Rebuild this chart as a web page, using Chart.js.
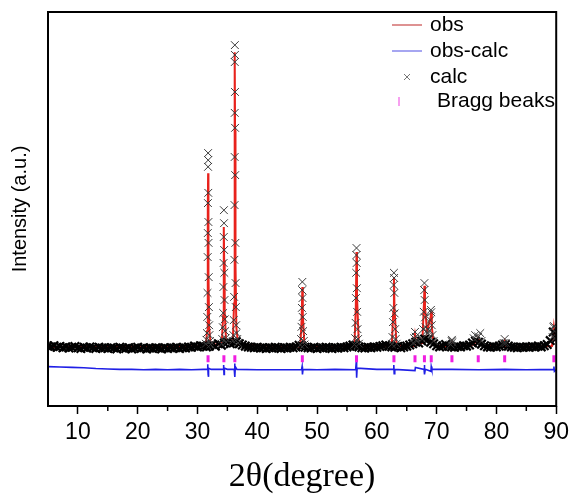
<!DOCTYPE html>
<html>
<head>
<meta charset="utf-8">
<script src="https://cdn.jsdelivr.net/npm/chart.js@4.4.1/dist/chart.umd.min.js"></script>
<style>
  html, body { margin: 0; padding: 0; background: #fff; }
  canvas { display: block; }
</style>
</head>
<body>
<canvas id="xrdChart" width="574" height="494"></canvas>
<script>
// x axis ticks (2theta, degree)
const majorTicks = [10, 20, 30, 40, 50, 60, 70, 80, 90];
const minorTicks = [15, 25, 35, 45, 55, 65, 75, 85];

// Bragg reflection positions
const braggPeaks = [31.77, 34.42, 36.25, 47.54, 56.60, 62.86, 66.38, 67.96, 69.10, 72.56, 76.96, 81.38, 89.61];
const braggLevel = 120;

// calc: background points on a 0.5 degree scan from 5 to 90
const scanStart = 5;
const scanStep = 0.5;
const calcBackground = [
    152, 150, 153, 149, 151, 148, 150, 147, 149, 151, 148, 146, 149, 147, 150, 148, 146, 149, 147, 148,
    146, 148, 147, 145, 149, 147, 146, 148, 145, 147, 149, 146, 148, 145, 147, 146, 148, 147, 145, 148,
    146, 148, 147, 149, 146, 148, 147, 150, 149, 152, 150, 153, 152, 150, 152, 156, 152, 158, 154, 160,
    162, 158, 160, 163, 158, 155, 152, 150, 149, 148, 149, 147, 148, 146, 148, 147, 149, 148, 146, 148,
    147, 149, 148, 150, 154, 152, 149, 148, 147, 149, 146, 148, 147, 149, 148, 146, 148, 147, 149, 148,
    150, 152, 155, 153, 150, 148, 147, 149, 148, 150, 149, 151, 153, 155, 152, 150, 149, 151, 148, 150,
    152, 155, 158, 162, 160, 165, 170, 168, 162, 158, 153, 150, 152, 156, 152, 150, 149, 151, 150, 153,
    152, 155, 160, 165, 162, 157, 153, 150, 149, 151, 150, 152, 155, 156, 152, 150, 149, 148, 150, 149,
    150, 149, 151, 150, 152, 150, 153, 156, 166, 188, 172
];

// calc: points across the reflections [2theta, intensity]
const calcPeaks = [
    [31.40, 158], [31.50, 168], [31.58, 185], [31.64, 226], [31.68, 287], [31.71, 378], [31.73, 439],
    [31.75, 515], [31.77, 607], [31.78, 642], [31.79, 624], [31.81, 541], [31.83, 467], [31.85, 414],
    [31.88, 327], [31.91, 251], [31.95, 205], [32.00, 180], [32.08, 165], [32.20, 156],
    [34.05, 158], [34.15, 170], [34.24, 200], [34.30, 236], [34.34, 302], [34.37, 363], [34.40, 429],
    [34.42, 497], [34.44, 464], [34.46, 396], [34.49, 338], [34.52, 269], [34.56, 220], [34.62, 190],
    [34.70, 172], [34.80, 162],
    [35.90, 165], [36.00, 180], [36.08, 218], [36.13, 277], [36.17, 371], [36.20, 510], [36.22, 632],
    [36.23, 744], [36.24, 873], [36.25, 916], [36.26, 891], [36.27, 797], [36.29, 706], [36.31, 586],
    [36.34, 414], [36.37, 312], [36.41, 251], [36.46, 205], [36.54, 185], [36.65, 170], [36.80, 160],
    [47.20, 155], [47.32, 170], [47.40, 201], [47.46, 249], [47.51, 294], [47.54, 315], [47.57, 274],
    [47.61, 226], [47.67, 190], [47.78, 165], [47.90, 156],
    [56.25, 156], [56.38, 172], [56.45, 211], [56.50, 274], [56.54, 338], [56.58, 383], [56.60, 401],
    [56.63, 363], [56.66, 299], [56.70, 239], [56.76, 195], [56.86, 170], [57.00, 158],
    [62.50, 157], [62.62, 175], [62.70, 213], [62.76, 249], [62.81, 307], [62.86, 338], [62.89, 325],
    [62.93, 287], [62.98, 235], [63.05, 195], [63.15, 170], [63.30, 158],
    [66.10, 160], [66.25, 172], [66.38, 188], [66.50, 176], [66.65, 165],
    [67.60, 170], [67.75, 195], [67.85, 239], [67.92, 294], [67.96, 312], [68.00, 269], [68.06, 225],
    [68.15, 200], [68.30, 190],
    [68.50, 185], [68.80, 192], [68.95, 218], [69.05, 244], [69.10, 238], [69.18, 205], [69.30, 180],
    [69.50, 165],
    [72.35, 156], [72.50, 165], [72.56, 168], [72.65, 162],
    [76.20, 172], [76.45, 180], [76.96, 176], [77.30, 185], [77.50, 165],
    [81.20, 160], [81.38, 170], [81.55, 160],
    [89.40, 175], [89.55, 200], [89.61, 203], [89.70, 190], [89.85, 172]
];

// obs: measured profile [2theta, intensity]
const obsProfile = [
    [5, 150], [31.40, 152], [31.60, 190], [31.70, 330], [31.75, 500], [31.78, 591], [31.81, 520],
    [31.86, 340], [31.95, 200], [32.20, 156], [34.05, 156], [34.30, 230], [34.38, 360], [34.42, 454],
    [34.47, 370], [34.55, 240], [34.80, 160], [35.90, 160], [36.12, 260], [36.20, 520], [36.25, 898],
    [36.29, 700], [36.36, 360], [36.50, 200], [36.80, 156], [47.20, 150], [47.42, 220], [47.54, 302],
    [47.62, 230], [47.90, 152], [56.25, 152], [56.48, 250], [56.60, 391], [56.68, 280], [57.00, 152],
    [62.50, 152], [62.75, 240], [62.86, 327], [62.95, 250], [63.30, 152], [66.10, 152], [66.38, 182],
    [66.65, 155], [67.60, 160], [67.88, 260], [67.96, 305], [68.05, 250], [68.40, 190], [69.00, 225],
    [69.10, 240], [69.20, 200], [69.50, 158], [70.50, 152], [72.30, 150], [72.56, 162], [72.80, 150],
    [76.20, 156], [76.96, 174], [77.60, 154], [81.10, 150], [81.38, 164], [81.60, 150], [89.30, 152],
    [89.61, 200], [89.85, 168], [90, 165]
];

// obs-calc: difference curve [2theta, intensity]
const diffProfile = [
    [5, 100], [7, 99], [9, 98], [11, 97], [13, 95], [15, 94], [17, 93], [19, 93], [21, 92], [23, 93],
    [25, 92], [27, 93], [29, 92], [31, 93], [31.60, 93], [31.72, 106], [31.78, 80], [31.82, 74],
    [31.88, 96], [32.3, 93], [34.30, 93], [34.38, 104], [34.44, 80], [34.50, 96], [35, 93],
    [36.15, 93], [36.22, 108], [36.27, 74], [36.33, 100], [36.6, 93], [40, 92], [44, 92], [47.40, 92],
    [47.50, 100], [47.56, 80], [47.65, 93], [50, 92], [53, 93], [56.45, 92], [56.56, 112], [56.62, 72],
    [56.70, 96], [60, 93], [62.75, 93], [62.84, 104], [62.90, 82], [63.0, 93], [66.38, 90], [66.45, 98],
    [67.90, 93], [67.95, 104], [68.00, 80], [68.1, 93], [69.05, 88], [69.10, 100], [69.2, 93],
    [72.56, 93], [77, 92], [81.38, 93], [85, 92], [89.55, 93], [89.62, 100], [89.70, 88], [90, 92]
];

const legendItems = ['obs', 'obs-calc', 'calc', 'Bragg beaks'];

const colors = {
    obs: '#e8221c',
    diff: '#1f1fe6',
    calc: '#3a3a3a',
    bragg: '#f01ee0'
};

const toPoints = (arr) => arr.map(p => ({ x: p[0], y: p[1] }));

const calcPoints = calcBackground
    .map((v, i) => ({ x: scanStart + i * scanStep, y: v }))
    .concat(toPoints(calcPeaks));

const framePlugin = {
    id: 'frame',
    afterDatasetsDraw(chart) {
        const { ctx, chartArea: a, scales: { x } } = chart;
        ctx.save();
        ctx.strokeStyle = '#000';
        ctx.lineWidth = 2;
        ctx.strokeRect(a.left, a.top, a.right - a.left, a.bottom - a.top);
        ctx.lineWidth = 1.5;
        minorTicks.forEach(v => {
            const px = x.getPixelForValue(v);
            ctx.beginPath();
            ctx.moveTo(px, a.bottom);
            ctx.lineTo(px, a.bottom + 5);
            ctx.stroke();
        });
        ctx.restore();
    }
};

const legendPlugin = {
    id: 'cornerLegend',
    afterDraw(chart) {
        const { ctx } = chart;
        const rows = [25, 51, 77, 101];
        ctx.save();
        ctx.font = '21px "Liberation Sans", Arial, sans-serif';
        ctx.textBaseline = 'middle';
        ctx.fillStyle = '#000';

        ctx.lineWidth = 1.2;
        ctx.strokeStyle = '#c84a4a';
        ctx.beginPath(); ctx.moveTo(392, rows[0]); ctx.lineTo(422, rows[0]); ctx.stroke();
        ctx.strokeStyle = '#6a6ae8';
        ctx.beginPath(); ctx.moveTo(392, rows[1]); ctx.lineTo(422, rows[1]); ctx.stroke();
        ctx.strokeStyle = '#777';
        ctx.lineWidth = 1;
        ctx.beginPath();
        ctx.moveTo(404, rows[2] - 3); ctx.lineTo(410, rows[2] + 3);
        ctx.moveTo(410, rows[2] - 3); ctx.lineTo(404, rows[2] + 3);
        ctx.stroke();
        ctx.strokeStyle = '#f7a0f0';
        ctx.lineWidth = 2;
        ctx.beginPath(); ctx.moveTo(399, rows[3] - 4); ctx.lineTo(399, rows[3] + 5); ctx.stroke();

        ctx.fillText(legendItems[0], 430, rows[0]);
        ctx.fillText(legendItems[1], 430, rows[1]);
        ctx.fillText(legendItems[2], 430, rows[2]);
        ctx.fillText(legendItems[3], 437, rows[3]);
        ctx.restore();
    }
};

const bgCount = calcBackground.length;

const ctx = document.getElementById('xrdChart').getContext('2d');
new Chart(ctx, {
    type: 'scatter',
    data: {
        datasets: [
            {
                label: 'Bragg beaks',
                data: braggPeaks.map(v => ({ x: v, y: braggLevel })),
                pointStyle: 'line',
                rotation: 90,
                pointRadius: 3.5,
                borderWidth: 3,
                borderColor: colors.bragg,
                backgroundColor: colors.bragg,
                order: 0
            },
            {
                label: 'calc',
                data: calcPoints,
                pointStyle: 'crossRot',
                pointRadius: (c) => c.dataIndex < bgCount ? 6 : 5.5,
                borderWidth: (c) => c.dataIndex < bgCount ? 2.2 : 1,
                borderColor: (c) => c.dataIndex < bgCount ? '#000' : colors.calc,
                backgroundColor: colors.calc,
                order: 1
            },
            {
                label: 'obs',
                data: toPoints(obsProfile),
                showLine: true,
                pointRadius: 0,
                borderWidth: 2,
                borderColor: colors.obs,
                order: 2
            },
            {
                label: 'obs-calc',
                data: toPoints(diffProfile),
                showLine: true,
                pointRadius: 0,
                borderWidth: 1.6,
                borderColor: colors.diff,
                order: 3
            }
        ]
    },
    options: {
        responsive: false,
        animation: false,
        layout: {
            padding: { top: 12, right: 16, left: 0, bottom: 0 }
        },
        scales: {
            x: {
                type: 'linear',
                min: 5,
                max: 90,
                afterBuildTicks: (scale) => {
                    scale.ticks = majorTicks.map(v => ({ value: v }));
                },
                afterFit: (scale) => { scale.height = 88; },
                border: { display: false },
                grid: {
                    drawOnChartArea: false,
                    drawTicks: true,
                    tickLength: 8,
                    tickWidth: 1.5,
                    tickColor: '#000'
                },
                ticks: {
                    color: '#000',
                    padding: 5,
                    maxRotation: 0,
                    font: { family: '"Liberation Sans", Arial, sans-serif', size: 23 }
                },
                title: {
                    display: true,
                    text: '2θ(degree)',
                    color: '#000',
                    padding: { top: 0, bottom: 0 },
                    font: { family: '"Liberation Serif", "Times New Roman", serif', size: 34, lineHeight: 1 }
                }
            },
            y: {
                min: 0,
                max: 1000,
                afterFit: (scale) => { scale.width = 48; },
                border: { display: false },
                grid: { display: false },
                ticks: { display: false },
                title: {
                    display: true,
                    text: 'Intensity (a.u.)',
                    color: '#000',
                    padding: { top: 8, bottom: 0 },
                    font: { family: '"Liberation Sans", Arial, sans-serif', size: 20 }
                }
            }
        },
        plugins: {
            legend: { display: false },
            tooltip: { enabled: false }
        }
    },
    plugins: [framePlugin, legendPlugin]
});
</script>
</body>
</html>
